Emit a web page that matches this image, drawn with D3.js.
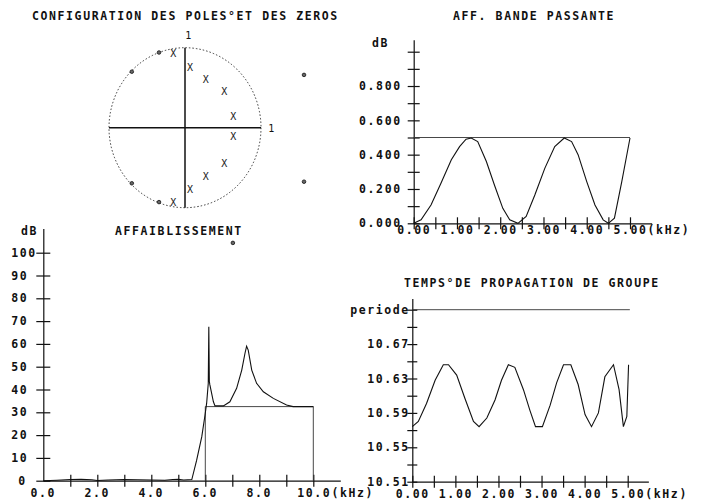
<!DOCTYPE html>
<meta charset="utf-8">
<style>
    body { margin: 0; background: #fff; }
    svg text {
        font-family: "DejaVu Sans Mono", monospace;
        font-size: 11.5px;
        font-weight: bold;
        letter-spacing: 1.6px;
        fill: #111;
    }
    .axis path, .axis line { stroke: #111; stroke-width: 1.2px; }
    .curve { fill: none; stroke: #111; stroke-width: 1.1px; }
    .thin { fill: none; stroke: #333; stroke-width: 0.9px; }
</style>
<svg width="701" height="504"></svg>
<script src="https://d3js.org/d3.v7.min.js"></script>
<script>
    // poles (X) and zeros (o), complex plane coords
    const poles = [[-0.154, 0.93], [0.066, 0.75], [0.272, 0.61], [0.517, 0.45], [0.636, 0.137],
                   [0.636, -0.113], [0.517, -0.445], [0.272, -0.605], [0.066, -0.765], [-0.154, -0.93]];
    const zeros = [[-0.342, 0.94], [-0.70, 0.70], [1.566, 0.66],
                   [-0.70, -0.695], [-0.342, -0.93], [1.566, -0.675], [0.63, -1.44]];

    // AFF. BANDE PASSANTE (dB vs kHz)
    const bpFreq = [0, 0.17, 0.40, 0.63, 0.87, 1.06, 1.21, 1.33, 1.48, 1.68, 1.87, 2.06, 2.22, 2.41,
                    2.6, 2.8, 3.03, 3.26, 3.48, 3.65, 3.80, 4.0, 4.19, 4.38, 4.5, 4.64, 4.81, 5.0];
    const bpAtt = [0, 0.02, 0.107, 0.233, 0.37, 0.447, 0.49, 0.497, 0.476, 0.36, 0.22, 0.087, 0.02, 0,
                   0.04, 0.165, 0.32, 0.447, 0.497, 0.476, 0.40, 0.243, 0.107, 0.02, 0, 0.03, 0.243, 0.497];
    const bpRipple = 0.5;
    const bpYTicks = [0, 0.1, 0.2, 0.3, 0.4, 0.5, 0.6, 0.7, 0.8, 0.9, 1.0];
    const bpYLabels = ["0.000", "", "0.200", "", "0.400", "", "0.600", "", "0.800", "", ""];
    const bpXTicks = [0, 0.5, 1, 1.5, 2, 2.5, 3, 3.5, 4, 4.5, 5];
    const bpXLabels = ["0.00", "", "1.00", "", "2.00", "", "3.00", "", "4.00", "", "5.00(kHz)"];

    // AFFAIBLISSEMENT (dB vs kHz)
    const attFreq = [0, 0.5, 1.0, 1.4, 1.8, 2.0, 2.4, 3.0, 3.5, 4.0, 4.5, 4.8, 5.0, 5.2, 5.5,
                     5.68, 5.87, 5.99, 6.05, 6.11, 6.13, 6.15, 6.17, 6.3, 6.36, 6.67, 6.91, 7.16,
                     7.35, 7.47, 7.53, 7.59, 7.72, 7.9, 8.15, 8.52, 9.01, 9.25, 10.0];
    const attDb = [0, 0.2, 0.5, 0.6, 0.4, 0.1, 0.3, 0.5, 0.4, 0.3, 0.2, 0.5, 0.6, 0.3, 0.5,
                   9, 19.3, 28.8, 34, 42.7, 67.5, 43.5, 42, 34.6, 32.8, 32.8, 34.6, 40.5,
                   48.5, 55.9, 59, 57.3, 48.5, 42.7, 39, 36.1, 33.2, 32.5, 32.5];
    const stopStart = 6.0, stopEnd = 10.0, stopLevel = 32.5;
    const attYTicks = [0, 10, 20, 30, 40, 50, 60, 70, 80, 90, 100];
    const attXTicks = [1, 2, 3, 4, 5, 6, 7, 8, 9, 10];
    const attXLabelVals = [0, 2, 4, 6, 8, 10];
    const attXLabels = ["0.0", "2.0", "4.0", "6.0", "8.0", "10.0(kHz)"];

    // TEMPS DE PROPAGATION DE GROUPE
    const gdFreq = [0, 0.14, 0.33, 0.53, 0.72, 0.84, 1.03, 1.22, 1.42, 1.55, 1.73, 1.92, 2.07, 2.23,
                    2.38, 2.58, 2.73, 2.86, 3.02, 3.2, 3.35, 3.51, 3.68, 3.85, 4.01, 4.16, 4.32,
                    4.47, 4.67, 4.8, 4.9, 4.98, 5.02];
    const gdVal = [10.574, 10.58, 10.601, 10.628, 10.646, 10.646, 10.634, 10.607, 10.58, 10.574,
                   10.584, 10.605, 10.628, 10.646, 10.643, 10.617, 10.593, 10.574, 10.574, 10.599,
                   10.625, 10.646, 10.646, 10.623, 10.588, 10.574, 10.59, 10.632, 10.646, 10.617,
                   10.574, 10.586, 10.646];
    const periode = 10.71;
    const gdYTicks = [10.51, 10.53, 10.55, 10.57, 10.59, 10.61, 10.63, 10.65, 10.67, 10.69, 10.71];
    const gdYLabels = ["10.51", "", "10.55", "", "10.59", "", "10.63", "", "10.67", "", "periode"];
    const gdXTicks = bpXTicks;
    const gdXLabels = bpXLabels;

    var svg = d3.select("svg");

    function crossY(g, len) {
        g.selectAll(".tick line").attr("x1", -len).attr("x2", len);
    }

    // ---------- pole / zero map ----------
    let pzX = d3.scaleLinear().domain([-1, 1]).range([109, 261]);
    let pzY = d3.scaleLinear().domain([-1, 1]).range([207.7, 47.7]);
    let pz = svg.append("g");
    pz.append("ellipse")
        .attr("cx", pzX(0)).attr("cy", pzY(0))
        .attr("rx", pzX(1) - pzX(0)).attr("ry", pzY(-1) - pzY(0))
        .attr("fill", "none").attr("stroke", "#222")
        .attr("stroke-width", 0.9).attr("stroke-dasharray", "1.5,2");
    pz.append("line").attr("class", "curve").style("stroke-width", 1.5)
        .attr("x1", pzX(-1)).attr("x2", pzX(1)).attr("y1", pzY(0)).attr("y2", pzY(0));
    pz.append("line").attr("class", "curve").style("stroke-width", 1.5)
        .attr("x1", pzX(0)).attr("x2", pzX(0)).attr("y1", pzY(-1)).attr("y2", pzY(1));
    pz.append("text").attr("x", pzX(0) + 4).attr("y", pzY(1) - 9).attr("text-anchor", "middle")
        .style("font-size", "10px").style("font-weight", "normal").text("1");
    pz.append("text").attr("x", pzX(1) + 11).attr("y", pzY(0) + 4).attr("text-anchor", "middle")
        .style("font-size", "10px").style("font-weight", "normal").text("1");
    pz.selectAll(".pole").data(poles).enter().append("text")
        .attr("class", "pole")
        .attr("x", d => pzX(d[0])).attr("y", d => pzY(d[1]))
        .attr("dy", "0.36em").attr("text-anchor", "middle")
        .style("font-size", "10px").style("font-weight", "normal").style("letter-spacing", "0px")
        .style("fill", "#222")
        .text("X");
    pz.selectAll(".zero").data(zeros).enter().append("circle")
        .attr("cx", d => pzX(d[0])).attr("cy", d => pzY(d[1]))
        .attr("r", 1.8).attr("fill", "#666").attr("stroke", "#111").attr("stroke-width", 0.8);

    svg.append("text").attr("x", 32).attr("y", 20).text("CONFIGURATION DES POLES°ET DES ZEROS");

    // ---------- AFF. BANDE PASSANTE ----------
    let bx = d3.scaleLinear().domain([0, 5.5]).range([413.7, 413.7 + 5.5 * 43.26]);
    let by = d3.scaleLinear().domain([0, 1.07]).range([223.3, 223.3 - 1.07 * 171.6]);
    let bp = svg.append("g");
    bp.append("g").attr("class", "axis")
        .attr("transform", `translate(0,${by(0)})`)
        .call(d3.axisBottom(bx).tickValues(bpXTicks).tickSizeOuter(0)
            .tickFormat((d, i) => bpXLabels[i]))
        .call(g => g.selectAll(".tick line").attr("y1", -6).attr("y2", 6))
        .call(g => g.selectAll(".tick text").attr("y", 10.5).attr("dy", 0))
        .call(g => g.selectAll(".tick:last-of-type text").attr("text-anchor", "start").attr("dx", -17));
    bp.append("g").attr("class", "axis")
        .attr("transform", `translate(${bx(0)},0)`)
        .call(d3.axisLeft(by).tickValues(bpYTicks).tickSizeOuter(0)
            .tickFormat((d, i) => bpYLabels[i]))
        .call(g => crossY(g, 6))
        .call(g => g.selectAll(".tick text").attr("x", -12));
    bp.append("text").attr("x", 372).attr("y", 47).text("dB");
    bp.append("line").attr("class", "thin")
        .attr("x1", bx(0)).attr("x2", bx(5)).attr("y1", by(bpRipple)).attr("y2", by(bpRipple));
    bp.append("path").attr("class", "curve")
        .attr("d", d3.line().x((d, i) => bx(bpFreq[i])).y(d => by(d))(bpAtt));
    svg.append("text").attr("x", 453).attr("y", 20).text("AFF. BANDE PASSANTE");

    // ---------- AFFAIBLISSEMENT ----------
    let ax = d3.scaleLinear().domain([0, 11]).range([43.3, 43.3 + 11 * 27]);
    let ay = d3.scaleLinear().domain([0, 110.6]).range([480.7, 480.7 - 110.6 * 2.28]);
    let at = svg.append("g");
    at.append("g").attr("class", "axis")
        .attr("transform", `translate(0,${ay(0)})`)
        .call(d3.axisBottom(ax).tickValues(attXTicks).tickSizeOuter(0).tickFormat(""))
        .call(g => g.selectAll(".tick line").attr("y1", -6).attr("y2", 6));
    at.selectAll(".xlab").data(attXLabelVals).enter().append("text")
        .attr("x", d => ax(d)).attr("y", 497)
        .attr("text-anchor", (d, i) => i === attXLabels.length - 1 ? "start" : "middle")
        .attr("dx", (d, i) => i === attXLabels.length - 1 ? -16 : 0)
        .text((d, i) => attXLabels[i]);
    at.append("g").attr("class", "axis")
        .attr("transform", `translate(${ax(0)},0)`)
        .call(d3.axisLeft(ay).tickValues(attYTicks).tickSizeOuter(0))
        .call(g => crossY(g, 7))
        .call(g => g.selectAll(".tick text").attr("text-anchor", "start")
            .attr("x", d => d === 0 ? -25 : -32));
    at.append("text").attr("x", 21).attr("y", 235).text("dB");
    // template
    at.append("path").attr("class", "thin")
        .attr("d", d3.line()([[ax(stopStart), ay(0)], [ax(stopStart), ay(stopLevel)],
            [ax(stopEnd), ay(stopLevel)], [ax(stopEnd), ay(0)]]));
    at.append("path").attr("class", "curve")
        .attr("d", d3.line().x((d, i) => ax(attFreq[i])).y(d => ay(d))(attDb));
    svg.append("text").attr("x", 115).attr("y", 235).text("AFFAIBLISSEMENT");

    // ---------- TEMPS DE PROPAGATION DE GROUPE ----------
    let gx = d3.scaleLinear().domain([0, 5.48]).range([412.3, 412.3 + 5.48 * 43.08]);
    let gy = d3.scaleLinear().domain([10.51, 10.723]).range([481.7, 481.7 - 0.213 * 860]);
    let gd = svg.append("g");
    gd.append("g").attr("class", "axis")
        .attr("transform", `translate(0,${gy(10.51)})`)
        .call(d3.axisBottom(gx).tickValues(gdXTicks).tickSizeOuter(0)
            .tickFormat((d, i) => gdXLabels[i]))
        .call(g => g.selectAll(".tick line").attr("y1", -6).attr("y2", 6))
        .call(g => g.selectAll(".tick text").attr("y", 16).attr("dy", 0))
        .call(g => g.selectAll(".tick:last-of-type text").attr("text-anchor", "start").attr("dx", -17));
    gd.append("g").attr("class", "axis")
        .attr("transform", `translate(${gx(0)},0)`)
        .call(d3.axisLeft(gy).tickValues(gdYTicks).tickSizeOuter(0)
            .tickFormat((d, i) => gdYLabels[i]))
        .call(g => crossY(g, 5))
        .call(g => g.selectAll(".tick text").attr("x", -2.5));
    gd.append("line").attr("class", "thin")
        .attr("x1", gx(0)).attr("x2", gx(5.05)).attr("y1", gy(periode)).attr("y2", gy(periode));
    gd.append("path").attr("class", "curve")
        .attr("d", d3.line().x((d, i) => gx(gdFreq[i])).y(d => gy(d))(gdVal));
    svg.append("text").attr("x", 404).attr("y", 287).text("TEMPS°DE PROPAGATION DE GROUPE");
</script>
